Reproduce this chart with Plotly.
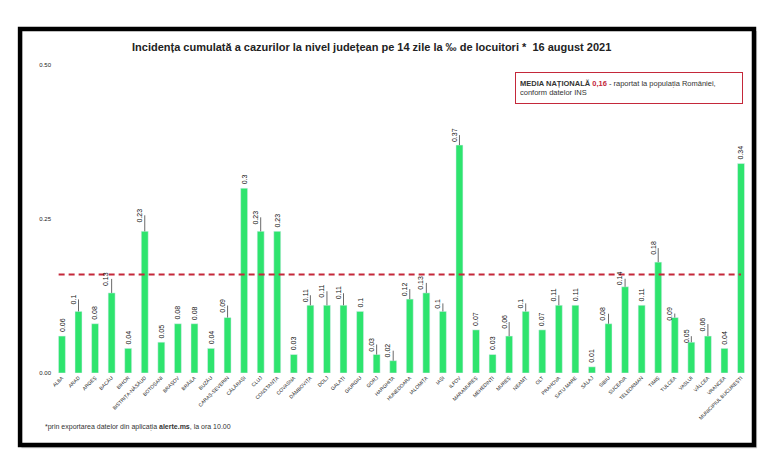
import plotly.graph_objects as go

# county names, ordered as in the source chart
judete = ["ALBA", "ARAD", "ARGEȘ", "BACĂU", "BIHOR", "BISTRIȚA-NĂSĂUD", "BOTOȘANI",
          "BRAȘOV", "BRĂILA", "BUZĂU", "CARAȘ-SEVERIN", "CĂLĂRAȘI", "CLUJ", "CONSTANȚA",
          "COVASNA", "DÂMBOVIȚA", "DOLJ", "GALAȚI", "GIURGIU", "GORJ", "HARGHITA",
          "HUNEDOARA", "IALOMIȚA", "IAȘI", "ILFOV", "MARAMUREȘ", "MEHEDINȚI", "MUREȘ",
          "NEAMȚ", "OLT", "PRAHOVA", "SATU MARE", "SĂLAJ", "SIBIU", "SUCEAVA",
          "TELEORMAN", "TIMIȘ", "TULCEA", "VASLUI", "VÂLCEA", "VRANCEA",
          "MUNICIPIUL BUCUREȘTI"]

incidenta = [0.06, 0.1, 0.08, 0.13, 0.04, 0.23, 0.05, 0.08, 0.08, 0.04, 0.09, 0.3,
             0.23, 0.23, 0.03, 0.11, 0.11, 0.11, 0.1, 0.03, 0.02, 0.12, 0.13, 0.1,
             0.37, 0.07, 0.03, 0.06, 0.1, 0.07, 0.11, 0.11, 0.01, 0.08, 0.14, 0.11,
             0.18, 0.09, 0.05, 0.06, 0.04, 0.34]

media_nationala = 0.16
tick_vals = [0, 0.25, 0.5]

# labels that sit on a short leader line in the original (style only)
cu_linie = {"ARAD": 12, "BACĂU": 14, "BISTRIȚA-NĂSĂUD": 16, "CARAȘ-SEVERIN": 12,
            "CLUJ": 14, "DÂMBOVIȚA": 10, "DOLJ": 14, "GALAȚI": 12, "GORJ": 10,
            "HARGHITA": 10, "HUNEDOARA": 10, "IALOMIȚA": 10, "IAȘI": 8, "ILFOV": 10,
            "MUREȘ": 14, "NEAMȚ": 8, "PRAHOVA": 10, "SIBIU": 10, "SUCEAVA": 8,
            "TIMIȘ": 14, "TULCEA": 4, "VASLUI": 6, "VÂLCEA": 12}

verde = "#2ee46e"
rosu = "#c4283a"

fig = go.Figure()
fig.add_trace(go.Bar(x=list(range(len(judete))), y=incidenta, marker_color=verde,
                     hoverinfo="x+y"))

# value labels above bars
for i, (j, v) in enumerate(zip(judete, incidenta)):
    lung = cu_linie.get(j, 0)
    fig.add_annotation(x=i, y=v, text=f"{v:g}", textangle=-90,
                       showarrow=lung > 0, arrowhead=0, arrowwidth=0.8,
                       arrowcolor="#444", ax=0, ay=-lung, yanchor="bottom",
                       yshift=0 if lung else 2,
                       font=dict(family="Liberation Sans", size=7, color="#111"))

# national average line
fig.add_shape(type="line", xref="x", yref="y", x0=-0.2, x1=41, y0=media_nationala,
              y1=media_nationala, line=dict(color=rosu, width=2, dash="6px,4px"))

# outer frame with soft shadow
fig.add_shape(type="rect", xref="paper", yref="paper", x0=-0.044, x1=1.016,
              y0=-0.244, y1=1.11, fillcolor="#ccc", line_width=0, layer="below")
fig.add_shape(type="rect", xref="paper", yref="paper", x0=-0.046, x1=1.0115,
              y0=-0.234, y1=1.117, fillcolor="white",
              line=dict(color="black", width=4.5), layer="below")

fig.add_annotation(xref="paper", yref="paper", x=0.46, y=1.06, yanchor="middle",
                   showarrow=False,
                   text="<b>Incidența cumulată a cazurilor la nivel județean pe 14 zile la ‰ de locuitori *  16 august 2021</b>",
                   font=dict(family="Liberation Sans Narrow, Liberation Sans", size=11, color="#222"))

fig.add_annotation(xref="paper", yref="paper", x=0.667, y=0.977, xanchor="left",
                   yanchor="top", showarrow=False, align="left",
                   width=218, height=22,
                   text=f"<b>MEDIA NAȚIONALĂ</b> <b><span style='color:{rosu}'>0,16</span></b>"
                        " - raportat la populația României,<br>conform datelor INS",
                   bordercolor=rosu, borderwidth=1, borderpad=4, bgcolor="white",
                   font=dict(family="Liberation Sans", size=7.5, color="#333"))

fig.add_annotation(xref="paper", yref="paper", x=-0.013, y=-0.175, xanchor="left",
                   yanchor="middle", showarrow=False,
                   text="*prin exportarea datelor din aplicația <b>alerte.ms</b>, la ora 10.00",
                   font=dict(family="Liberation Sans", size=7, color="#333"))

fig.update_layout(
    width=768, height=463,
    margin=dict(l=44, r=30, t=57, b=98),
    paper_bgcolor="white", plot_bgcolor="white",
    bargap=0.58, showlegend=False,
    xaxis=dict(range=[-0.6, 41.3], tickvals=list(range(len(judete))),
               ticktext=judete, tickangle=-45, showline=False, showgrid=False,
               zeroline=False, ticks="",
               tickfont=dict(family="Liberation Sans", size=5, color="#222")),
    yaxis=dict(range=[0, 0.5], tickvals=tick_vals, tickformat=".2f",
               showgrid=False, zeroline=False, showline=False, ticks="",
               tickfont=dict(family="Liberation Sans", size=6, color="#222")),
)

fig.write_html("out.html")
